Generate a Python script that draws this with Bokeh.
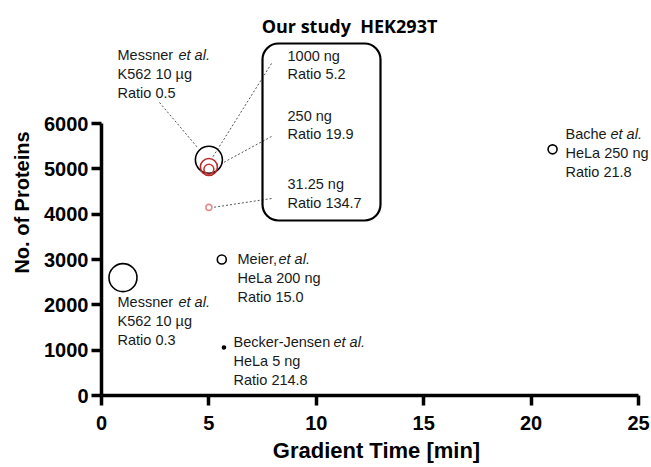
from bokeh.plotting import figure
from bokeh.models import Label, BoxAnnotation, FixedTicker, ColumnDataSource
from bokeh.embed import file_html
from bokeh.resources import INLINE

# ---------------- data ----------------
studies = ["Messner et al. (1 min)", "Messner et al. (5 min)", "Meier et al.", "Becker-Jensen et al.", "Bache et al."]
study_names = ["Messner ", "Messner ", "Meier,", "Becker-Jensen ", "Bache "]
study_samples = ["K562 10 µg", "K562 10 µg", "HeLa 200 ng", "HeLa 5 ng", "HeLa 250 ng"]
study_ratios = ["0.3", "0.5", "15.0", "214.8", "21.8"]
study_gradient = [1, 5, 5.6, 5.7, 21]
study_proteins = [2600, 5200, 3000, 1060, 5430]

our_amounts = ["1000 ng", "250 ng", "31.25 ng"]
our_ratios = ["5.2", "19.9", "134.7"]
our_gradient = [5, 5, 5]
our_proteins = [5040, 4990, 4150]

x_ticks = [0, 5, 10, 15, 20, 25]
y_ticks = [0, 1000, 2000, 3000, 4000, 5000, 6000]

# ---------------- styles ----------------
study_sizes = [28, 27, 9, 3, 9]
study_fill = [None, None, None, "black", None]
our_sizes = [17, 10, 6]
our_colors = ["#b52a2a", "#c43a3a", "#e09090"]

W, H = 651, 467
X0_PX, X_PER = 101.0, 21.48     # px of x=0, px per minute
Y0_PX, Y_PER = 395.0, 45.33     # px of y=0, px per 1000 proteins
TOP_PX = 9


def px2x(px):
    return (px - X0_PX) / X_PER


def px2y(py):
    return (Y0_PX - py) / Y_PER * 1000.0


p = figure(width=W, height=H, output_backend="svg", toolbar_location=None,
           x_range=(0, px2x(W)), y_range=(0, px2y(TOP_PX)),
           min_border_left=int(X0_PX), min_border_right=0, min_border_top=TOP_PX,
           min_border_bottom=int(H - Y0_PX))
p.outline_line_color = None
p.grid.visible = False
p.background_fill_color = "white"
p.border_fill_color = "white"

for ax in (p.xaxis[0], p.yaxis[0]):
    ax.axis_line_width = 3.5
    ax.axis_line_color = "black"
    ax.major_tick_line_width = 3.5
    ax.major_tick_line_color = "black"
    ax.major_tick_out = 10
    ax.major_tick_in = 0
    ax.minor_tick_line_color = None
    ax.major_label_text_font = "Liberation Sans"
    ax.major_label_text_font_style = "bold"
    ax.major_label_text_font_size = "20px"
    ax.major_label_text_color = "black"
    ax.axis_label_text_font = "Liberation Sans"
    ax.axis_label_text_font_style = "bold"
    ax.axis_label_text_color = "black"

p.xaxis.bounds = (0, 25)
p.yaxis.bounds = (0, 6000)
p.xaxis.ticker = FixedTicker(ticks=x_ticks)
p.yaxis.ticker = FixedTicker(ticks=y_ticks)
p.xaxis.axis_label = "Gradient Time [min]"
p.yaxis.axis_label = "No. of Proteins"
p.xaxis.axis_label_text_font_size = "22px"
p.yaxis.axis_label_text_font_size = "20px"
p.xaxis.major_label_standoff = 10
p.yaxis.major_label_standoff = 3
p.xaxis.axis_label_standoff = 5
p.yaxis.axis_label_standoff = 8

# ---------------- leader lines (drawn first) ----------------
lead_x0 = [px2x(159), px2x(271), px2x(271), px2x(271)]
lead_y0 = [px2y(102), px2y(63), px2y(136), px2y(198)]
lead_x1 = [px2x(197), px2x(212), px2x(223), px2x(212)]
lead_y1 = [px2y(147), px2y(157), px2y(162), px2y(207)]
p.segment(lead_x0, lead_y0, lead_x1, lead_y1, line_color="#555555", line_width=1, line_dash="2 2")

# ---------------- markers ----------------
src = ColumnDataSource(dict(x=study_gradient, y=study_proteins, s=study_sizes,
                            f=["black" if c else "white" for c in study_fill],
                            fa=[1.0 if c else 0.0 for c in study_fill]))
p.scatter("x", "y", size="s", source=src, marker="circle", line_color="black",
          line_width=1.6, fill_color="f", fill_alpha="fa")

osrc = ColumnDataSource(dict(x=our_gradient, y=our_proteins, s=our_sizes, c=our_colors))
p.scatter("x", "y", size="s", source=osrc, marker="circle", line_color="c",
          line_width=1.6, fill_color=None)

# ---------------- rounded box ----------------
box = BoxAnnotation(left=px2x(262), right=px2x(380), top=px2y(43), bottom=px2y(220),
                    fill_color=None, fill_alpha=0, line_color="black", line_width=2.2,
                    line_dash="solid", line_alpha=1, border_radius=16)
p.add_layout(box)

FONT = "Liberation Sans"
FS = "14.5px"


def text(px, py, s, style="normal", size=FS, font=FONT, align="left", color="#1a1a1a"):
    p.add_layout(Label(x=px2x(px), y=px2y(py), text=s, text_font=font, text_font_size=size,
                       text_font_style=style, text_align=align, text_baseline="middle",
                       text_color=color))


# title
text(349, 25, "Our study\u00a0\u00a0HEK293T", style="bold", size="18px", font="Open Sans",
     align="center", color="black")

# our study labels
our_label_y = [(55, 73), (115, 133), (183, 202)]
for (ya, yb), amt, r in zip(our_label_y, our_amounts, our_ratios):
    text(287, ya, amt)
    text(287, yb, "Ratio " + r)

# literature labels: (x px, first line y px), italic offset px
lit_layout = [(117, 301), (117, 54), (237, 258), (233, 341), (565, 133)]
italic_offset = [61, 61, 41, 100, 45]
for (lx, ly), name, off, samp, r in zip(lit_layout, study_names, italic_offset, study_samples, study_ratios):
    text(lx, ly, name)
    text(lx + off, ly, "et al.", style="italic")
    text(lx, ly + 19, samp)
    text(lx, ly + 38, "Ratio " + r)

open("out.html", "w").write(file_html(p, INLINE))
